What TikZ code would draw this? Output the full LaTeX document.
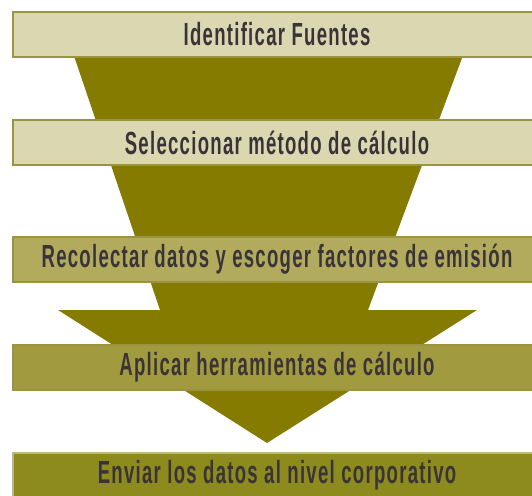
\documentclass[tikz,border=0pt]{standalone}
\usepackage{fontspec}
\usepackage{xcolor}
\usepackage{tikz}
\usetikzlibrary{positioning}
\newfontfamily\stagefont[FakeStretch=0.58,LetterSpace=4]{Liberation Sans Bold}
\definecolor{FunnelOlive}{HTML}{857B00}
\definecolor{FunnelPale}{HTML}{DBD7B1}
\definecolor{FunnelMid}{HTML}{B2AB5E}
\definecolor{FunnelDeep}{HTML}{A19A3F}
\definecolor{FunnelBase}{HTML}{8D8A1E}
\definecolor{FunnelEdge}{HTML}{9A9440}
\definecolor{FunnelInk}{HTML}{3A3438}

\begin{document}
\begin{tikzpicture}[
  x=1pt,y=-1pt,
  node distance=61pt,
  stage/.style={draw=FunnelEdge,line width=2pt,minimum width=528pt,
    minimum height=45pt,inner sep=0pt,text=FunnelInk,
    font=\stagefont\fontsize{32}{34}\selectfont}
]
\useasboundingbox (0,0) rectangle (532,495);
\clip (0,0) rectangle (532,495);
\fill[FunnelOlive] (72,50) -- (465,50) -- (368,310) -- (477,310) -- (267,443)
  -- (58,310) -- (160,310) -- cycle;
\node[stage,fill=FunnelPale,anchor=north west] (fuentes) at (12,11) {Identificar Fuentes};
\node[stage,fill=FunnelPale,below=of fuentes] (metodo) {Seleccionar método de cálculo};
\node[stage,fill=FunnelMid,below=70pt of metodo] (datos) {Recolectar datos y escoger factores de emisión};
\node[stage,fill=FunnelDeep,below=of datos] (herramientas) {Aplicar herramientas de cálculo};
\node[stage,fill=FunnelBase,draw=FunnelBase!60!white,below=of herramientas] (corporativo) {Enviar los datos al nivel corporativo};
\end{tikzpicture}
\end{document}
